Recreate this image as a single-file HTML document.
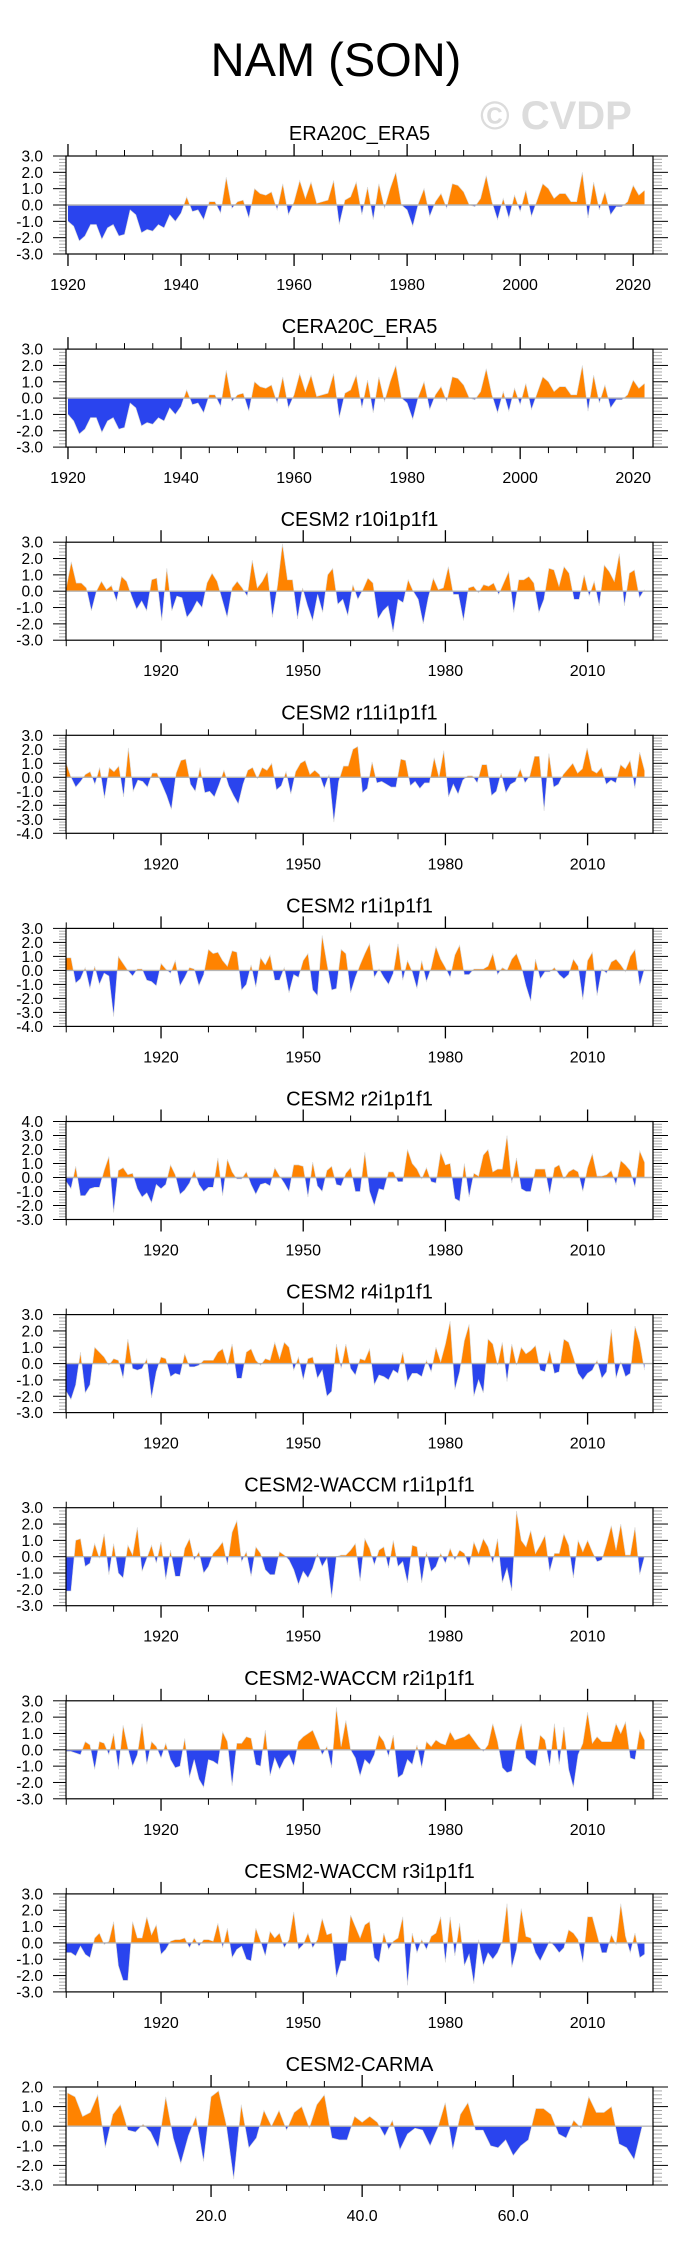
<!DOCTYPE html>
<html><head><meta charset="utf-8">
<style>
html,body{margin:0;padding:0;background:#fff;}
svg{display:block;font-family:"Liberation Sans",Arial,sans-serif;}
</style></head>
<body>
<svg id="chart" width="684" height="2251" viewBox="0 0 684 2251" xmlns="http://www.w3.org/2000/svg">
<text x="336" y="76" font-size="47" text-anchor="middle" fill="#000">NAM (SON)</text>
<text x="556" y="129" font-size="40" font-weight="bold" text-anchor="middle" fill="#dcdcdc">© CVDP</text>
</svg>
<script>
const era20cVals=[-1.0,-1.3,-2.2,-1.9,-1.2,-1.2,-2.1,-1.4,-1.2,-1.9,-1.8,-0.3,-0.6,-1.7,-1.5,-1.6,-1.2,-1.4,-0.6,-1.0,-0.5,0.5,-0.4,-0.3,-0.9,0.2,0.2,-0.5,1.7,-0.2,0.2,0.3,-0.8,1.0,0.7,0.6,0.8,-0.3,1.3,-0.6,0.2,1.5,0.4,1.4,0.1,0.2,0.3,1.5,-1.2,0.3,0.5,1.4,-0.6,1.1,-0.9,1.3,-0.2,1.0,2.0,0.0,-0.3,-1.3,0.1,1.0,-0.7,0.2,0.7,-0.2,1.3,1.2,0.8,0.0,-0.1,0.4,1.8,0.2,-0.9,0.4,-0.8,0.6,-0.4,0.9,-0.7,0.3,1.3,1.0,0.4,0.7,0.7,0.2,0.2,2.0,-0.8,1.4,-0.3,0.8,-0.6,-0.1,-0.1,0.2,1.2,0.6,0.9];
const cera20cVals=[-1.0,-1.4,-2.2,-1.9,-1.2,-1.2,-2.1,-1.4,-1.2,-1.9,-1.8,-0.3,-0.6,-1.7,-1.5,-1.6,-1.2,-1.4,-0.6,-1.0,-0.5,0.5,-0.4,-0.3,-0.9,0.2,0.2,-0.5,1.7,-0.2,0.2,0.3,-0.8,1.0,0.7,0.6,0.8,-0.3,1.3,-0.6,0.2,1.5,0.4,1.4,0.1,0.2,0.3,1.5,-1.2,0.3,0.5,1.4,-0.6,1.1,-0.9,1.3,-0.2,1.0,2.0,0.0,-0.3,-1.3,0.1,1.0,-0.7,0.2,0.7,-0.2,1.3,1.2,0.8,0.0,-0.1,0.4,1.8,0.2,-0.9,0.4,-0.8,0.6,-0.4,0.9,-0.7,0.3,1.3,1.0,0.4,0.7,0.7,0.2,0.2,2.0,-0.8,1.4,-0.3,0.8,-0.6,-0.1,-0.1,0.2,1.1,0.6,0.9];
const r10Vals=[0.2,1.8,0.5,0.5,0.2,-1.2,0.0,0.6,0.1,0.35,-0.6,0.9,0.6,-0.3,-1.1,-0.6,-1.2,0.7,0.8,-1.8,1.4,-1.2,-0.3,-0.4,-1.6,-1.2,-0.6,-1.0,0.5,1.1,0.6,-0.5,-1.6,0.2,0.6,0.2,-0.3,1.9,0.2,0.6,1.2,-1.6,0.3,2.9,0.7,0.7,-1.7,0.2,-0.9,-1.8,-0.2,-1.3,1.0,1.4,-0.8,-0.5,-1.5,0.4,-0.5,0.1,0.8,0.5,-1.7,-1.2,-0.9,-2.5,-0.5,-0.7,0.7,0.0,-0.5,-2.0,-0.4,0.8,0.1,0.2,1.5,-0.2,-0.2,-1.8,0.2,0.3,-0.1,0.4,0.3,0.5,-0.2,0.5,1.2,-1.3,0.7,0.7,0.9,0.5,-1.3,-0.5,1.4,1.3,0.3,1.5,1.1,-0.5,-0.5,1.0,-0.3,0.6,-0.9,1.6,1.2,0.6,2.3,-0.9,1.1,1.3,-0.4,0.1];
const r11Vals=[1.0,0.0,-0.7,-0.3,0.2,0.4,-0.5,0.7,-1.5,0.7,0.4,0.8,-1.4,2.1,-1.0,-0.2,-0.3,-0.7,0.3,0.3,-0.5,-1.3,-2.3,0.3,1.2,1.3,-0.5,-1.0,0.7,-1.1,-1.0,-1.4,-0.5,0.5,-0.6,-1.3,-1.9,-0.5,0.5,0.7,-0.1,0.7,0.5,1.0,-0.9,-0.6,0.4,-1.2,0.4,1.0,1.2,0.2,0.5,0.2,-0.8,0.2,-3.2,-0.3,0.8,0.8,2.0,2.2,-1.1,-0.8,1.1,-0.4,-0.3,-0.5,-0.7,-0.7,1.3,1.2,-0.6,-0.3,-0.8,-0.4,-0.4,1.4,0.0,1.9,-1.4,-0.5,-1.2,-0.2,0.1,0.1,-0.4,0.9,0.9,-1.3,-1.0,0.3,-1.1,-0.5,-0.3,0.6,-0.4,0.1,1.5,1.5,-2.4,1.7,-0.7,-0.5,0.2,0.6,1.0,0.3,0.6,2.1,0.5,0.3,0.7,-0.5,-0.2,-0.4,0.9,0.6,1.2,-0.8,1.8,0.5];
const r1Vals=[0.9,0.9,-0.9,-0.6,0.2,-1.3,0.3,-1.0,-0.2,-0.4,-3.3,1.0,0.5,0.0,-0.4,0.1,0.1,-0.7,-0.8,-1.1,0.5,0.1,-0.2,0.7,-1.1,-0.5,0.2,0.1,-1.1,-0.3,1.5,1.2,1.3,0.7,0.3,1.4,1.3,-1.4,-1.0,0.4,-1.2,0.9,0.4,1.1,-0.7,-0.7,0.2,-1.6,-0.3,-0.5,0.7,1.2,-1.4,-1.8,2.5,0.5,-1.4,-1.3,1.5,1.2,-1.6,-0.5,0.4,1.2,1.9,-0.5,0.1,-0.5,-1.0,-0.2,1.9,-0.7,0.7,-0.1,-1.3,0.7,-0.8,0.2,1.7,0.8,0.2,-0.5,1.1,1.8,-0.3,-0.3,0.1,0.1,0.1,0.3,1.2,-0.3,0.2,0.0,0.8,1.2,0.3,-1.1,-2.2,0.8,-0.6,-0.1,-0.1,0.2,-0.3,-0.6,-0.3,0.8,0.3,-2.1,0.7,1.3,-1.8,0.1,-0.2,0.6,0.8,0.4,-0.1,1.0,1.5,-1.1,0.1];
const r2Vals=[-0.3,-0.8,0.8,-1.3,-1.3,-0.8,-0.7,-0.7,0.5,1.5,-2.5,0.5,0.7,0.2,0.3,-0.8,-1.4,-1.1,-1.8,-0.5,-0.8,-0.5,0.9,0.2,-1.2,-0.9,-0.4,0.5,-0.5,-1.0,-0.7,-0.7,1.4,-1.3,1.3,0.4,-0.1,-0.1,0.4,-0.5,-1.2,-0.5,-0.4,-0.6,0.7,0.1,-0.4,-1.0,0.9,0.9,0.8,-1.4,1.1,-0.6,-1.0,0.5,0.8,-0.5,-0.6,0.3,0.7,-1.0,-1.0,1.8,-1.0,-2.0,-0.8,-0.9,0.4,0.4,-0.3,-0.3,2.0,1.0,0.6,-0.1,0.7,-0.3,-0.4,1.8,0.9,1.0,-1.5,-1.7,1.0,-1.4,0.3,0.1,1.6,2.0,0.4,0.6,0.6,3.0,-0.4,1.4,-0.8,-1.0,-1.0,0.6,0.6,0.6,-1.2,0.7,0.9,-0.1,0.4,0.6,0.4,-1.0,0.7,1.7,0.1,0.1,0.2,0.5,-0.5,1.2,0.9,0.5,-0.7,1.9,1.1];
const r4Vals=[-1.7,-2.2,-1.3,0.7,-1.8,-1.3,1.0,0.7,0.4,-0.1,0.3,0.2,-0.9,1.5,-0.3,-0.4,-0.3,0.3,-2.1,-0.5,0.4,0.3,-0.8,-0.6,-0.7,0.6,-0.2,-0.2,-0.1,0.2,0.2,0.2,0.7,0.9,-0.1,1.2,-0.9,-0.9,0.7,0.9,0.2,-0.1,0.3,0.2,1.3,0.3,1.3,1.0,-0.4,0.4,-1.0,0.3,0.4,-0.9,-0.4,-2.0,-1.7,1.2,-0.3,1.2,-0.3,-0.7,0.3,0.2,0.9,-1.3,-0.7,-0.8,-1.0,-0.4,-0.6,0.7,-1.1,-0.6,-0.6,-0.8,0.2,-0.5,1.0,0.1,1.2,2.6,-1.6,-0.5,1.4,2.4,-2.0,-1.0,-1.8,1.5,1.2,-0.1,1.3,-1.1,1.2,-0.1,1.0,0.6,0.8,1.1,-0.4,-0.5,0.8,-0.6,-0.5,1.5,1.3,0.4,-0.6,-1.0,-0.6,-0.4,0.2,-0.9,-0.5,2.1,-0.9,0.1,-0.8,-0.6,2.3,1.3,-0.4];
const waccm1Vals=[-2.1,-2.1,1.0,1.1,-0.6,-0.4,0.8,-0.1,1.4,-1.1,0.8,-1.0,-1.3,0.7,0.1,1.8,-0.9,-0.1,0.7,-0.4,0.9,-1.4,0.4,-1.2,-1.2,0.5,1.1,-0.2,0.3,-1.0,-0.6,0.2,0.5,0.9,-0.5,1.5,2.2,-0.3,0.3,-1.2,0.6,0.2,-0.8,-1.1,-1.1,0.3,0.1,-0.2,-0.8,-1.7,-0.9,-1.3,-0.7,0.2,-0.6,-0.1,-2.5,0.0,0.1,0.1,0.4,0.8,-1.5,1.1,0.5,-0.5,0.4,0.6,-0.7,1.0,-0.6,-0.3,-1.6,0.7,0.6,-1.6,0.3,-0.9,-0.6,0.2,-0.4,0.5,-0.2,0.4,0.2,-0.6,0.9,0.2,1.1,0.6,-0.4,1.1,-1.6,-0.7,-2.1,2.8,1.0,0.6,1.6,0.2,0.7,1.3,-0.9,0.2,0.2,1.4,0.7,-1.3,1.0,0.3,1.0,0.3,-0.3,-0.2,0.8,1.9,0.4,2.0,0.1,0.1,1.8,-1.1,0.0];
const waccm2Vals=[-0.1,-0.1,-0.2,-0.3,0.5,0.3,-1.2,0.5,0.4,-0.3,1.0,-1.2,1.5,0.1,-1.0,-0.3,1.6,-0.9,0.5,0.2,-0.5,0.4,-0.6,-1.1,-1.0,0.7,-1.7,-0.6,-1.8,-2.3,-0.6,-0.7,-0.9,1.1,0.5,-2.2,0.4,0.4,0.8,0.7,-0.9,-1.0,1.2,-1.6,-0.5,-1.2,-0.6,-0.3,-1.0,0.5,0.8,1.0,1.2,0.5,-0.3,0.2,-1.1,2.6,0.2,1.8,0.0,-0.5,-1.6,-0.6,-0.9,-0.3,0.9,0.5,-0.4,0.9,-1.7,-1.5,-0.6,-0.9,0.3,-1.1,0.5,0.2,0.6,0.4,0.3,1.1,0.6,0.7,0.8,1.0,0.6,0.2,-0.1,0.3,1.6,0.5,-1.1,-1.4,-1.3,0.5,1.6,-0.5,-0.8,-1.0,0.9,0.6,-1.0,1.6,-0.9,1.4,-1.2,-2.3,-0.3,0.4,2.3,0.4,0.8,0.5,0.5,0.5,1.6,1.0,1.7,-0.5,-0.6,1.2,0.6];
const waccm3Vals=[-0.6,-0.6,-0.8,-0.2,-0.7,-0.9,0.3,0.6,-0.1,0.1,1.3,-1.4,-2.3,-2.3,1.3,0.3,0.3,1.6,0.5,1.1,-0.7,-0.4,0.1,0.2,0.2,0.3,-0.3,0.3,-0.2,0.2,0.2,0.1,1.2,-0.3,0.9,-0.9,-0.4,-0.2,-1.0,-1.1,0.9,0.1,-0.8,0.7,0.3,0.6,-0.3,0.2,1.9,-0.4,-0.1,0.6,-0.3,0.2,1.5,0.5,0.6,-2.1,-1.1,-1.1,1.7,1.0,0.3,1.1,1.3,-0.9,-1.2,0.6,-0.4,0.1,0.3,1.6,-2.6,0.6,-0.6,0.2,-0.4,0.4,0.6,1.6,-1.2,1.6,-0.8,1.2,-1.4,-0.7,-2.5,0.2,-1.4,-0.6,-1.0,-0.6,0.1,2.4,-1.5,-0.4,2.1,0.4,0.3,-0.6,-1.1,-0.5,0.1,-0.2,-0.6,-0.3,0.8,0.6,0.2,-1.2,1.6,1.6,0.5,-0.6,-0.6,0.5,-0.1,2.4,0.4,-0.6,0.6,-0.9,-0.7];
const carmaVals=[1.7,1.5,0.5,0.7,1.6,-1.1,0.6,1.1,-0.2,-0.3,0.1,-0.3,-1.1,1.5,-0.6,-1.9,-0.5,0.5,-1.8,1.5,1.8,0.1,-2.7,1.1,-1.1,-0.6,0.8,0.0,0.8,-0.2,0.7,1.0,-0.1,1.1,1.6,-0.6,-0.7,-0.7,0.5,0.2,0.5,0.2,-0.5,0.3,-1.2,-0.4,-0.1,-0.2,-1.0,-0.1,1.2,-1.2,0.6,1.2,-0.2,-0.2,-1.0,-1.1,-0.7,-1.5,-1.0,-0.7,0.9,0.9,0.6,-0.4,-0.6,0.3,-0.1,1.5,0.7,0.7,1.0,-0.9,-1.1,-1.7,-0.1];
const panelTitles=["ERA20C_ERA5","CERA20C_ERA5","CESM2 r10i1p1f1","CESM2 r11i1p1f1","CESM2 r1i1p1f1","CESM2 r2i1p1f1","CESM2 r4i1p1f1","CESM2-WACCM r1i1p1f1","CESM2-WACCM r2i1p1f1","CESM2-WACCM r3i1p1f1","CESM2-CARMA"];
const panelSeries=[era20cVals,cera20cVals,r10Vals,r11Vals,r1Vals,r2Vals,r4Vals,waccm1Vals,waccm2Vals,waccm3Vals,carmaVals];
const yMaxes=[3,3,3,3,3,4,3,3,3,3,2];
const yMins=[-3,-3,-3,-4,-4,-3,-3,-3,-3,-3,-3];
const eraYearTicks=[1920,1940,1960,1980,2000,2020];
const cesmYearTicks=[1920,1950,1980,2010];
const carmaTicks=[20,40,60];
const carmaTickLabels=["20.0","40.0","60.0"];

const NS="http://www.w3.org/2000/svg";
const svg=document.getElementById('chart');
function mk(tag,attrs,parent){const e=document.createElementNS(NS,tag);for(const k in attrs)e.setAttribute(k,attrs[k]);(parent||svg).appendChild(e);return e;}
const L=66,R=653,H=98;
panelSeries.forEach((vals,p)=>{
  const top=156+p*193.1, bot=top+H;
  const g=mk('g',{});
  
  
  let dmin,dmax,x0,x1,majors,minors,labels;
  if(p<2){dmin=1919.65;dmax=2023.5;x0=1920;x1=1920+vals.length-1;majors=eraYearTicks;labels=eraYearTicks.map(String);minors=[];for(let y=1920;y<=2020;y+=5)minors.push(y);}
  else if(p<10){dmin=1899.95;dmax=2023.8;x0=1900;x1=2022;majors=cesmYearTicks;labels=cesmYearTicks.map(String);minors=[];for(let y=1900;y<=2020;y+=10)minors.push(y);}
  else{dmin=0.8;dmax=78.5;x0=1;x1=vals.length;majors=carmaTicks;labels=carmaTickLabels;minors=[];for(let y=5;y<=75;y+=5)minors.push(y);}
  const xs=v=>L+(v-dmin)/(dmax-dmin)*(R-L);
  const ymax=yMaxes[p],ymin=yMins[p];
  const ys=v=>top+(ymax-v)/(ymax-ymin)*H;
  const t=mk('text',{x:(L+R)/2,y:top-16,'font-size':20,'text-anchor':'middle',fill:'#000'},g);
  t.textContent=panelTitles[p];
  
  
  const n=vals.length;
  const xAt=i=>xs(x0+i*(x1-x0)/(n-1));
  let d='M'+xAt(0).toFixed(2)+','+ys(0).toFixed(2);
  vals.forEach((v,i)=>{d+=' L'+xAt(i).toFixed(2)+','+ys(v).toFixed(2);});
  d+=' L'+xAt(n-1).toFixed(2)+','+ys(0).toFixed(2)+' Z';
  const cpA=mk('clipPath',{id:'ca'+p},g);mk('rect',{x:L,y:top,width:R-L,height:ys(0)-top},cpA);
  const cpB=mk('clipPath',{id:'cb'+p},g);mk('rect',{x:L,y:ys(0),width:R-L,height:bot-ys(0)},cpB);
  const pa=mk('path',{d:d,fill:'#ff8300','clip-path':'url(#ca'+p+')'},g);
  
  
  const pb=mk('path',{d:d,fill:'#2a44ee','clip-path':'url(#cb'+p+')'},g);
  
  
  let ld='';vals.forEach((v,i)=>{ld+=(i?' L':'M')+xAt(i).toFixed(2)+','+ys(v).toFixed(2);});
  mk('path',{d:ld,fill:'none',stroke:'#d8d8d8','stroke-width':0.6},g);
  const zl=mk('line',{x1:L,x2:R,y1:ys(0),y2:ys(0),stroke:'#b4b4b4','stroke-width':1.4},g);
  
  
  for(let v=ymin;v<=ymax+1e-9;v+=0.2){
    const y=ys(v);const maj=Math.abs(v-Math.round(v))<1e-6;
    mk('line',{x1:maj?53:59,x2:L,y1:y,y2:y,stroke:maj?'#000':'#aaa','stroke-width':1},g);
    mk('line',{x1:R,x2:maj?668:662,y1:y,y2:y,stroke:maj?'#000':'#aaa','stroke-width':1},g);
  }
  for(let v=ymin;v<=ymax;v++){
    const tl=mk('text',{x:43,y:ys(v)+5.5,'font-size':15.5,'text-anchor':'end',fill:'#000'},g);
    tl.textContent=v.toFixed(1);
    
    
  }
  minors.forEach(m=>{if(majors.indexOf(m)>=0)return;const x=xs(m);
    mk('line',{x1:x,x2:x,y1:top-6,y2:top,stroke:'#000','stroke-width':1},g);
    mk('line',{x1:x,x2:x,y1:bot,y2:bot+6,stroke:'#000','stroke-width':1},g);});
  majors.forEach((m,i)=>{const x=xs(m);
    mk('line',{x1:x,x2:x,y1:top-12,y2:top,stroke:'#000','stroke-width':1.3},g);
    mk('line',{x1:x,x2:x,y1:bot,y2:bot+12,stroke:'#000','stroke-width':1.3},g);
    const xl=mk('text',{x:x,y:bot+36,'font-size':16,'text-anchor':'middle',fill:'#000'},g);
    xl.textContent=labels[i];
    
    
  });
  const box=mk('rect',{x:L,y:top,width:R-L,height:H,fill:'none',stroke:'#000','stroke-width':1.2},g);
  
  
});
</script>
</body></html>
